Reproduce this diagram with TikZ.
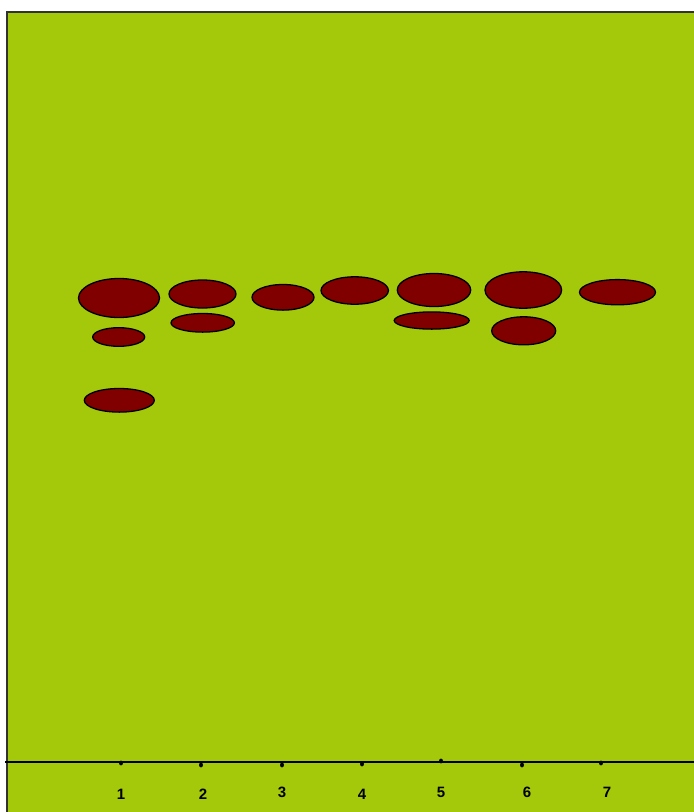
\documentclass[tikz,border=0pt]{standalone}
\usepackage{fontspec}
\setmainfont{Liberation Sans}
\definecolor{plate}{RGB}{164,201,10}
\definecolor{spotred}{RGB}{128,0,0}
\definecolor{edge}{RGB}{50,50,50}
\begin{document}
\begin{tikzpicture}[x=1pt,y=-1pt,
  spot/.style={fill=spotred,draw=black,line width=1.3pt},
  lane/.style={font=\bfseries\fontsize{15}{15}\selectfont,text=black},
  dotmark/.style={fill=black}]
\useasboundingbox (0,0) rectangle (694,812);
\fill[white] (0,0) rectangle (694,812);
% plate
\fill[plate] (7,12) rectangle (694,812);
\draw[edge,line width=2pt] (7,812) -- (7,12) -- (694,12);
% baseline
\draw[black,line width=1.3pt] (5,762) -- (694,762);
% application dots
\foreach \x/\y in {121/763,201/765,282/765,362/764,441/761,522/765,601/763}
  \fill[dotmark] (\x,\y) ellipse [x radius=2, y radius=2.4];
% lane numbers
\node[lane] (l1) at (121,794) {1};
\node[lane] (l2) at (203,794) {2};
\node[lane] (l3) at (282,792) {3};
\node[lane] (l4) at (362,794) {4};
\node[lane] (l5) at (441,792) {5};
\node[lane] (l6) at (527,792) {6};
\node[lane] (l7) at (607,792) {7};
% spots lane 1
\draw[spot] (119,298) ellipse [x radius=40.5, y radius=19.5];
\draw[spot] (118.7,337) ellipse [x radius=26, y radius=9.3];
\draw[spot] (119.3,400.3) ellipse [x radius=35, y radius=11.8];
% lane 2
\draw[spot] (202.5,294) ellipse [x radius=33.5, y radius=14];
\draw[spot] (202.7,322.8) ellipse [x radius=31.7, y radius=9.3];
% lane 3
\draw[spot] (283,297.3) ellipse [x radius=31, y radius=12.8];
% lane 4
\draw[spot] (354.7,290.5) ellipse [x radius=33.7, y radius=13.7];
% lane 5
\draw[spot] (434,290) ellipse [x radius=36.7, y radius=16.5];
\draw[spot] (431.7,320.5) ellipse [x radius=37.5, y radius=8.6];
% lane 6
\draw[spot] (523.3,290) ellipse [x radius=38.3, y radius=18.2];
\draw[spot] (523.7,330.8) ellipse [x radius=32, y radius=14];
% lane 7
\draw[spot] (617.5,292.2) ellipse [x radius=38, y radius=12.6];
\end{tikzpicture}
\end{document}
